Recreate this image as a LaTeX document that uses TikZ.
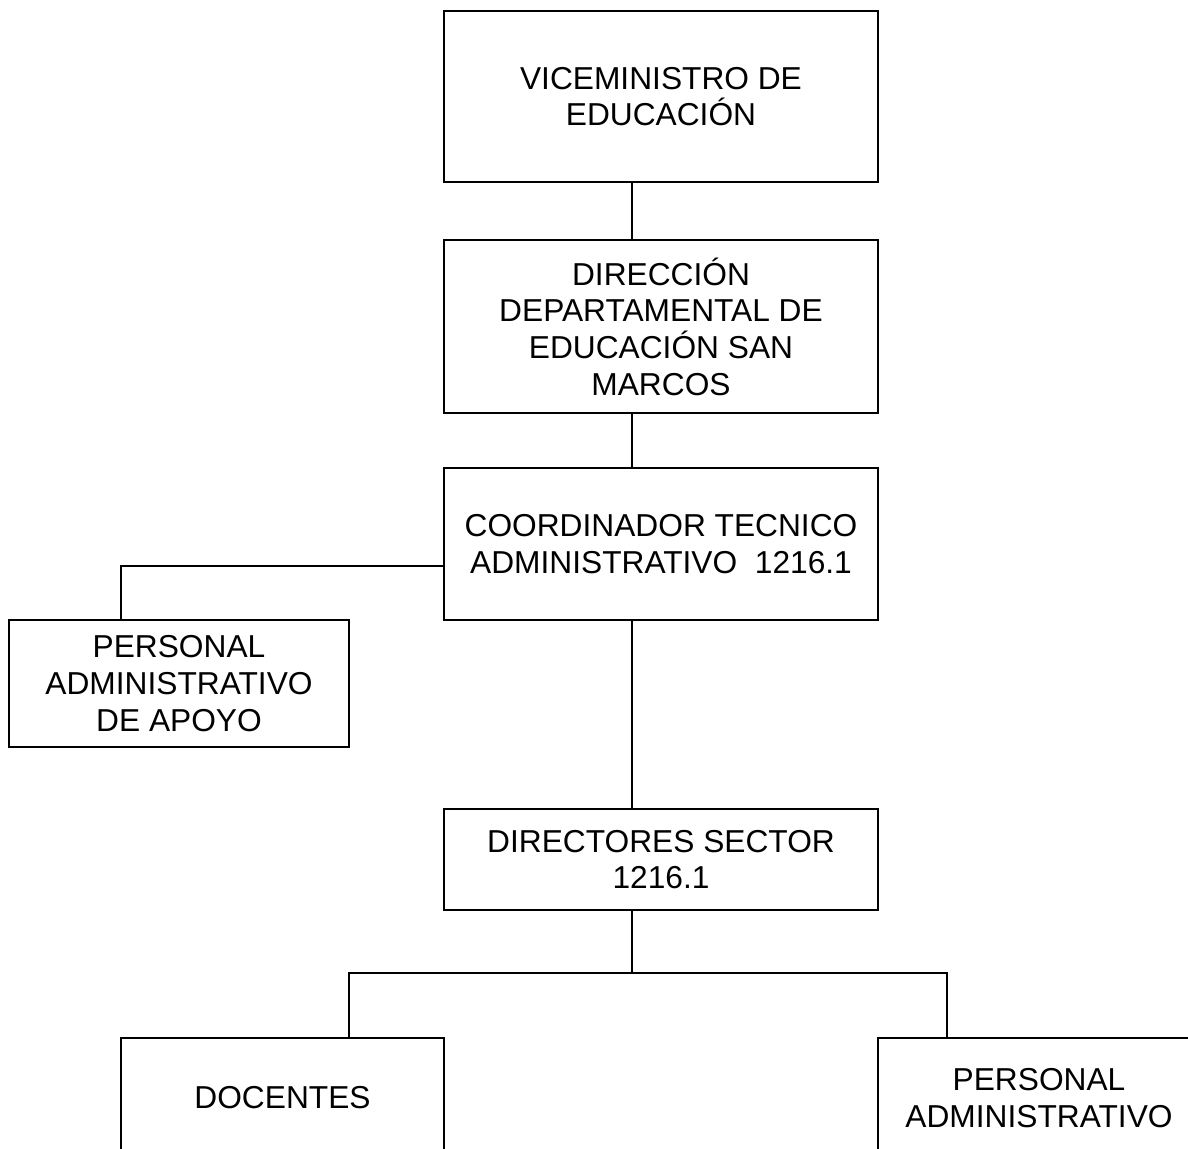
\documentclass[tikz,border=0pt]{standalone}
\usepackage{fontspec}
\setmainfont{Liberation Sans}
\tikzset{
    box/.style={draw,line width=1pt,inner sep=0pt,align=center,
        font=\fontsize{15.85pt}{18.35pt}\selectfont},
    link/.style={line width=1pt}
}
\begin{document}
\begin{tikzpicture}[x=0.5pt,y=-0.5pt]
    \useasboundingbox (0,0) rectangle (1188,1149);
    \clip (0,0) rectangle (1188,1149);
    \def\cx{661}
    \node[box,minimum width=217pt,minimum height=85.5pt] (vice) at (\cx,96.5) {VICEMINISTRO DE\\EDUCACIÓN};
    \node[box,minimum width=217pt,minimum height=86.5pt] (dir) at (\cx,326.5) {DIRECCIÓN\\DEPARTAMENTAL DE\\EDUCACIÓN SAN\\MARCOS};
    \node[box,minimum width=217pt,minimum height=76pt] (coord) at (\cx,544) {COORDINADOR TECNICO\\ADMINISTRATIVO~ 1216.1};
    \node[box,minimum width=170pt,minimum height=63.5pt] (apoyo) at (179,683.5) {PERSONAL\\ADMINISTRATIVO\\DE APOYO};
    \node[box,minimum width=217pt,minimum height=50.5pt] (dirs) at (\cx,859.5) {DIRECTORES SECTOR\\1216.1};
    % bottom
    \node[box,minimum width=161.5pt,minimum height=60pt] (docentes) at (282.5,1098) {DOCENTES};
    \node[box,minimum width=161pt,minimum height=60pt] (padmin) at (1039,1098) {PERSONAL\\ADMINISTRATIVO};
    % links
    \coordinate (trunk) at (632,0);
    \coordinate (ja) at (121,566);
    \coordinate (jl) at (349,973);
    \coordinate (jr) at (947,973);
    \foreach \a/\b in {vice/dir,dir/coord,coord/dirs}
        \draw[link] (\a.south -| trunk) -- (\b.north -| trunk);
    \draw[link] (coord.west |- ja) -- (ja) -- (apoyo.north -| ja);
    \draw[link] (dirs.south -| trunk) -- (jl -| trunk);
    \draw[link] (docentes.north -| jl) -- (jl) -- (jr) -- (padmin.north -| jr);
\end{tikzpicture}
\end{document}
